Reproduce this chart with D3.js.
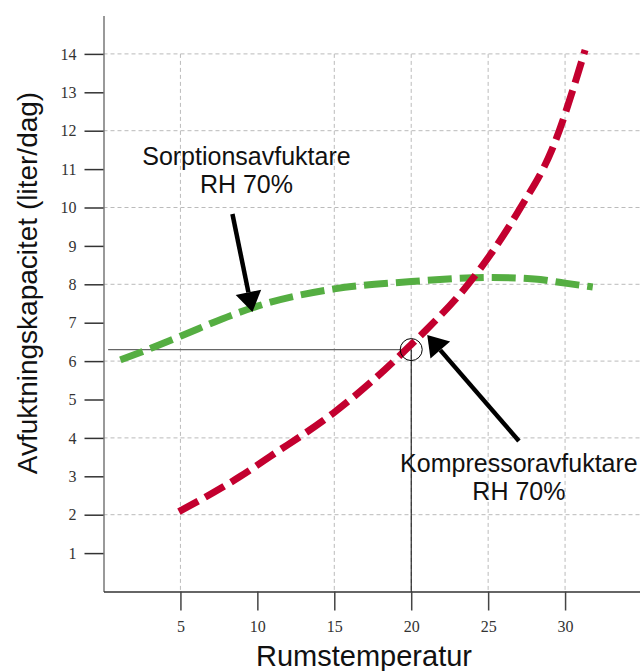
<!DOCTYPE html>
<html>
<head>
<meta charset="utf-8">
<script src="https://cdn.jsdelivr.net/npm/d3@7"></script>
<style>
  body { margin: 0; background: #fff; }
  svg { display: block; }
  .tick text { font-family: "Liberation Serif", serif; font-size: 16px; fill: #333; }
  .lbl { font-family: "Liberation Sans", Arial, sans-serif; fill: #111; }
</style>
</head>
<body>
<script>
// Sorptionsavfuktare RH 70% (temperatur, liter/dag)
var sorpX = [1.1, 2.8, 5, 8.7, 10, 15, 20, 24, 25, 28, 30, 31.8];
var sorpY = [6.03, 6.29, 6.65, 7.25, 7.43, 7.88, 8.07, 8.17, 8.18, 8.14, 8.03, 7.93];

// Kompressoravfuktare RH 70%
var kompX = [4.9, 8.9, 10.84, 14.95, 17.55, 19.97, 20.97, 23.94, 27.08, 29.14, 31.3];
var kompY = [2.08, 3.0, 3.52, 4.65, 5.51, 6.42, 6.81, 8.12, 9.98, 11.5, 14.1];

var xTicks = [5, 10, 15, 20, 25, 30];
var yTicks = [1, 2, 3, 4, 5, 6, 7, 8, 9, 10, 11, 12, 13, 14];
var xGrid = [5, 15, 20, 25, 30];
var yGrid = [2, 4, 6, 8, 10, 12, 14];

// markerad punkt
var markX = 20, markY = 6.3;

var width = 640, height = 671;

var svg = d3.select("body").append("svg")
  .attr("width", width)
  .attr("height", height);

var x = d3.scaleLinear().domain([0, 35]).range([103.5, 642]);
var y = d3.scaleLinear().domain([0, 15]).range([591.5, 15.5]);

// rutnät
var grid = svg.append("g")
  .attr("stroke", "#bbb")
  .attr("stroke-width", 1)
  .attr("stroke-dasharray", "4,3");

grid.selectAll("line.h")
  .data(yGrid)
  .join("line")
  .attr("class", "h")
  .attr("x1", x(0)).attr("x2", width)
  .attr("y1", (d) => y(d)).attr("y2", (d) => y(d));

grid.selectAll("line.v")
  .data(xGrid)
  .join("line")
  .attr("class", "v")
  .attr("x1", (d) => x(d)).attr("x2", (d) => x(d))
  .attr("y1", y(14)).attr("y2", y(0));

// axlar
var yAxis = svg.append("g")
  .attr("transform", `translate(${x(0)},0)`)
  .call(d3.axisLeft(y).tickValues(yTicks).tickSize(19).tickSizeOuter(0).tickPadding(8).tickFormat(d3.format("d")));
yAxis.select(".domain").attr("stroke", "#777").attr("stroke-width", 1.5);
yAxis.selectAll(".tick line").attr("stroke", "#333").attr("stroke-width", 1.5);

var xAxis = svg.append("g")
  .attr("transform", `translate(0,${y(0)})`)
  .call(d3.axisBottom(x).tickValues(xTicks).tickSize(19).tickSizeOuter(0).tickPadding(10).tickFormat(d3.format("d")));
xAxis.select(".domain").attr("stroke", "#333").attr("stroke-width", 1.5);
xAxis.selectAll(".tick line").attr("stroke", "#444").attr("stroke-width", 1.5);

// hjälplinjer till punkten
svg.append("line")
  .attr("x1", x(0.3)).attr("x2", x(markX))
  .attr("y1", y(markY)).attr("y2", y(markY))
  .attr("stroke", "#666").attr("stroke-width", 1.3);

svg.append("line")
  .attr("x1", x(markX)).attr("x2", x(markX))
  .attr("y1", y(markY)).attr("y2", y(0))
  .attr("stroke", "#000").attr("stroke-width", 1);

// kurvor
var line = d3.line()
  .x((d) => x(d[0]))
  .y((d) => y(d[1]))
  .curve(d3.curveMonotoneX);

svg.append("path")
  .datum(d3.zip(sorpX, sorpY))
  .attr("d", line)
  .attr("fill", "none")
  .attr("stroke", "#55ae42")
  .attr("stroke-width", 7)
  .attr("stroke-dasharray", "24,8");

svg.append("path")
  .datum(d3.zip(kompX, kompY))
  .attr("d", line)
  .attr("fill", "none")
  .attr("stroke", "#c3002f")
  .attr("stroke-width", 7)
  .attr("stroke-dasharray", "22,8");

svg.append("circle")
  .attr("cx", x(markX)).attr("cy", y(markY))
  .attr("r", 11)
  .attr("fill", "none")
  .attr("stroke", "#000")
  .attr("stroke-width", 1);

// pilar
var arrows = [
  { from: [8.38, 9.83], to: [9.68, 7.28] },
  { from: [27.0, 3.92], to: [21.04, 6.68] }
];

arrows.forEach(function (a) {
  var x1 = x(a.from[0]), y1 = y(a.from[1]);
  var x2 = x(a.to[0]), y2 = y(a.to[1]);
  var ang = Math.atan2(y2 - y1, x2 - x1);
  var len = 20, half = 13;
  var bx = x2 - len * Math.cos(ang), by = y2 - len * Math.sin(ang);
  svg.append("line")
    .attr("x1", x1).attr("y1", y1)
    .attr("x2", bx).attr("y2", by)
    .attr("stroke", "#000").attr("stroke-width", 4.5);
  var px = -Math.sin(ang), py = Math.cos(ang);
  svg.append("path")
    .attr("d", `M${x2},${y2}L${bx + half * px},${by + half * py}L${bx - half * px},${by - half * py}Z`)
    .attr("fill", "#000");
});

// etiketter
var labels = svg.append("g").attr("class", "lbl").attr("text-anchor", "middle").attr("font-size", 25);
labels.append("text").attr("x", x(9.29)).attr("y", y(11.1)).text("Sorptionsavfuktare");
labels.append("text").attr("x", x(9.29)).attr("y", y(10.37)).text("RH 70%");
labels.append("text").attr("x", x(27.0)).attr("y", y(3.12)).text("Kompressoravfuktare");
labels.append("text").attr("x", x(27.0)).attr("y", y(2.37)).text("RH 70%");

// axeltitlar
svg.append("text")
  .attr("class", "lbl")
  .attr("text-anchor", "middle")
  .attr("font-size", 28)
  .attr("transform", "translate(37,283) rotate(-90)")
  .text("Avfuktningskapacitet (liter/dag)");

svg.append("text")
  .attr("class", "lbl")
  .attr("text-anchor", "middle")
  .attr("font-size", 29)
  .attr("x", 364)
  .attr("y", 666)
  .text("Rumstemperatur");
</script>
</body>
</html>
